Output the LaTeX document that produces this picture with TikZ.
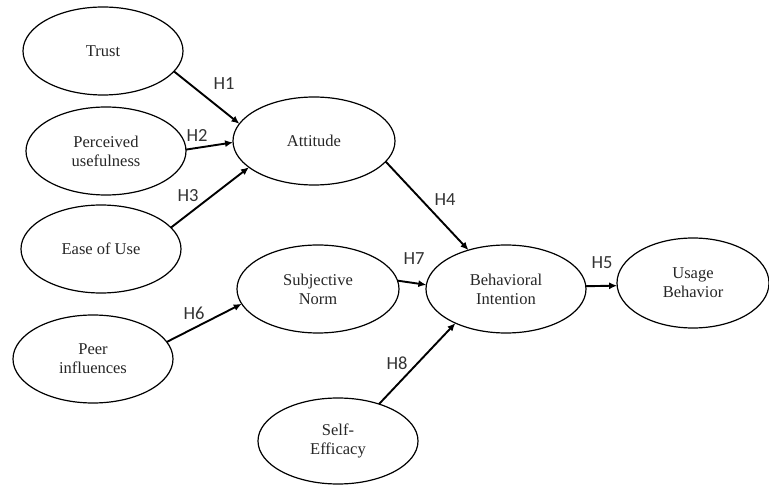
\documentclass[tikz,border=0pt]{standalone}
\usepackage{fontspec}
\setmainfont{Liberation Serif}
\newfontfamily\labfont{Carlito}
\usetikzlibrary{shapes.geometric,arrows.meta}
\tikzset{
  construct/.style={ellipse, draw=black, line width=1.2pt, minimum width=160pt, minimum height=88pt,
    inner sep=0pt, outer sep=0pt, align=center, text=black!85, font=\fontsize{16.5}{19}\selectfont},
  hyp/.style={line width=1.9pt, draw=black, -{Latex[length=8pt,width=7pt]}},
  hlab/.style={font=\labfont\fontsize{18.5}{20}\selectfont, text=black!80, inner sep=0pt}
}
\begin{document}
\begin{tikzpicture}[x=1pt,y=-1pt]
\useasboundingbox (0,0) rectangle (769,486);
\node[construct] (trust) at (103,51) {Trust};
\node[construct] (pu) at (106,151) {Perceived\\usefulness};
\node[construct] (ease) at (101,249) {Ease of Use};
\node[construct, minimum width=162pt] (att) at (314,141) {Attitude};
\node[construct, minimum width=162pt] (sn) at (318,289) {Subjective\\Norm};
\node[construct] (peer) at (93,359) {Peer\\influences};
\node[construct] (bi) at (506,289) {Behavioral\\Intention};
\node[construct, minimum width=152pt, minimum height=90pt] (ub) at (693,283) {Usage\\Behavior};
\node[construct, minimum height=86pt] (se) at (338,441) {Self-\\Efficacy};

\draw[hyp] (trust.-16) -- (att.167);
\draw[hyp] (pu.1) -- (att.181);
\draw[hyp] (ease.17) -- (att.202);
\draw[hyp] (att.-16) -- (bi.134);
\draw[hyp] (bi.2) -- (ub.182);
\draw[hyp] (peer.13) -- (sn.191);
\draw[hyp] (sn.6) -- (bi.177);
\draw[hyp] (se.42) -- (bi.214);

\node[hlab] (h1) at (224,84) {H1};
\node[hlab] (h2) at (197,135) {H2};
\node[hlab] (h3) at (188,196) {H3};
\node[hlab] (h4) at (445,200) {H4};
\node[hlab] (h5) at (602,263) {H5};
\node[hlab] (h6) at (194,313) {H6};
\node[hlab] (h7) at (414,259) {H7};
\node[hlab] (h8) at (397,363) {H8};
\end{tikzpicture}
\end{document}
